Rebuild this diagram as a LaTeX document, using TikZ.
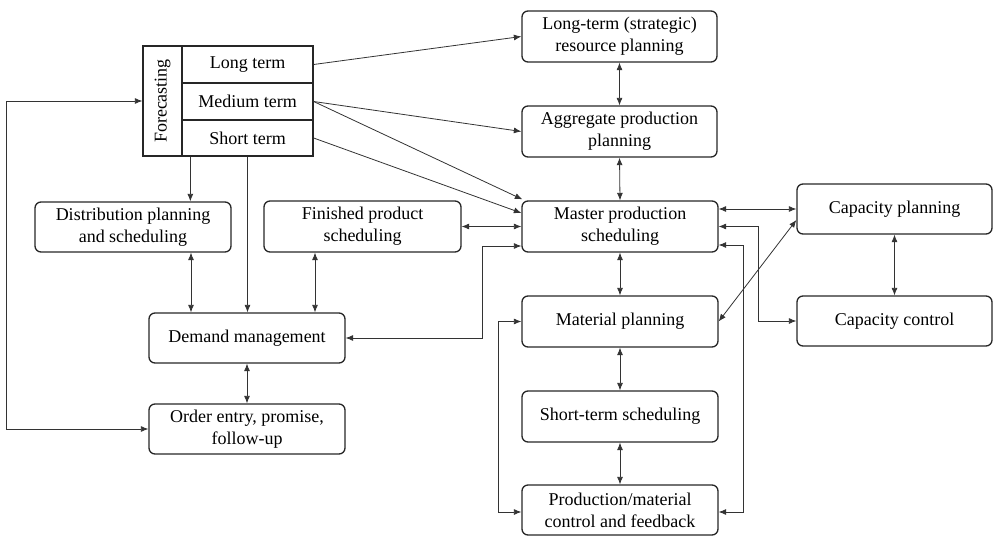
\documentclass[tikz,border=0pt]{standalone}
\usepackage{fontspec}
\setmainfont{Liberation Serif}
\usetikzlibrary{arrows.meta,calc}
\begin{document}
\begin{tikzpicture}[x=1pt,y=-1pt,
  txt/.style={font=\fontsize{18}{22}\selectfont},
  box/.style={txt,draw=black!85,line width=1.3pt,rounded corners=6pt,inner sep=0pt,align=center,minimum width=196pt,minimum height=51pt},
  cell/.style={txt,draw=black!85,line width=1.3pt,inner sep=0pt,align=center},
  conn/.style={line width=0.8pt,draw=black!80,{Latex[length=7.5pt,width=6pt]}-{Latex[length=7.5pt,width=6pt]}},
  arr/.style={line width=0.8pt,draw=black!80,-{Latex[length=7.5pt,width=6pt]}}]
\useasboundingbox (0,0) rectangle (993,536);
% forecasting block
\node[cell,minimum width=39pt,minimum height=110pt] (fc) at (162.5,101) {};
\node[txt,rotate=90,inner sep=0pt] (fctext) at (fc.center) {Forecasting};
\node[cell,minimum width=131pt,minimum height=37pt] (long) at (247.5,64.5) {Long term};
\node[cell,minimum width=131pt,minimum height=37pt] (medium) at (247.5,101.5) {Medium term};
\node[cell,minimum width=131pt,minimum height=36pt] (short) at (247.5,138) {Short term};
% boxes
\node[box,minimum width=195pt] (lts) at (619.5,36.5) {Long-term (strategic)\\resource planning};
\node[box,minimum width=195pt] (agg) at (619.5,131.5) {Aggregate production\\planning};
\node[box] (mps) at (620,226.5) {Master production\\scheduling};
\node[box] (mat) at (620,321.5) {Material planning};
\node[box] (sts) at (620,416.5) {Short-term scheduling};
\node[box,minimum height=50pt] (pmc) at (620,510) {Production/material\\control and feedback};
\node[box,minimum width=195pt,minimum height=50pt] (cap) at (894.5,209) {Capacity planning};
\node[box,minimum width=195pt,minimum height=50pt] (cc) at (894.5,321) {Capacity control};
\node[box,minimum height=50pt] (dist) at (133,227) {Distribution planning\\and scheduling};
\node[box,minimum width=197pt] (fin) at (362.5,226.5) {Finished product\\scheduling};
\node[box,minimum height=50pt] (dem) at (247,338) {Demand management};
\node[box,minimum height=50pt] (ord) at (247,429) {Order entry, promise,\\follow-up};
% forecasting connectors
\draw[arr] (long.east) -- (lts.west);
\draw[arr] (medium.east) -- (agg.west);
\draw[arr] (medium.east) -- ([xshift=1pt,yshift=1pt]mps.north west);
\draw[arr] (short.east) -- ([yshift=13.5pt]mps.west);
\draw[arr] ([xshift=9pt]short.south west) -- ([xshift=9pt]short.south west |- dist.north);
\draw[arr] (short.south) -- (short.south |- dem.north);
\draw[conn] (fc.west) -- ++(-136,0) |- (ord.west);
% left side
\draw[conn] ([xshift=58pt]dist.south) -- ([xshift=58pt]dist.south |- dem.north);
\draw[conn] ([xshift=-47.5pt]fin.south) -- ([xshift=-47.5pt]fin.south |- dem.north);
\draw[conn] (dem.south) -- (ord.north);
\draw[conn] (fin.east) -- (mps.west);
\draw[conn] ([yshift=-19.5pt]mps.west) -- ++(-39,0) |- (dem.east);
% central column
\draw[conn] (lts.south) -- (agg.north);
\draw[conn] (agg.south) -- (mps.north);
\draw[conn] (mps.south) -- (mat.north);
\draw[conn] (mat.south) -- (sts.north);
\draw[conn] (sts.south) -- (pmc.north);
\draw[conn] (mat.west) -- ++(-23,0) |- ([yshift=-2pt]pmc.west);
% right side
\draw[conn] ([yshift=17.5pt]mps.east) -- (cap.west);
\draw[conn] (mps.east) -- ++(40,0) |- (cc.west);
\draw[conn] ([yshift=-18.5pt]mps.east) -- ++(25,0) |- ([yshift=-2pt]pmc.east);
\draw[conn] (mat.east) -- ([yshift=-11pt]cap.west);
\draw[conn] (cap.south) -- (cc.north);
\end{tikzpicture}
\end{document}
